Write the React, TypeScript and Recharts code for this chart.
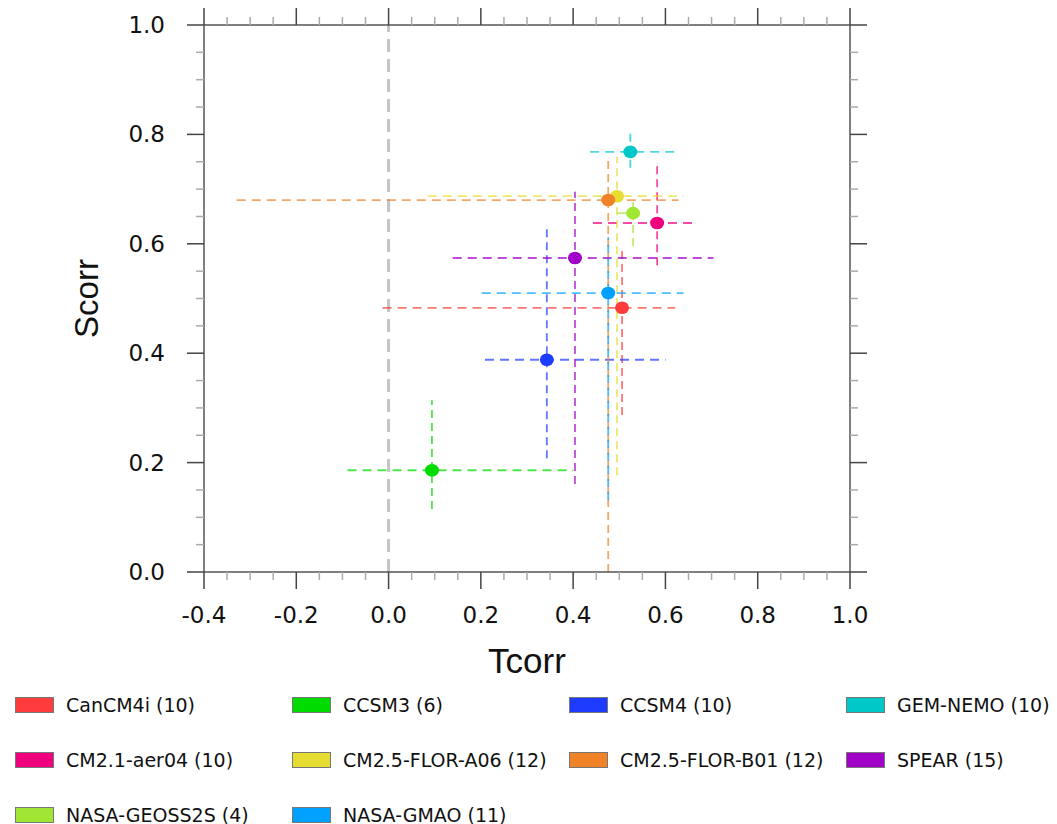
import React from 'react'
import { ScatterChart, Scatter, XAxis, YAxis, ErrorBar, ReferenceLine } from 'recharts'

// models in legend order
const models = [
  'CanCM4i (10)', 'CCSM3 (6)', 'CCSM4 (10)', 'GEM-NEMO (10)',
  'CM2.1-aer04 (10)', 'CM2.5-FLOR-A06 (12)', 'CM2.5-FLOR-B01 (12)', 'SPEAR (15)',
  'NASA-GEOSS2S (4)', 'NASA-GMAO (11)',
]
const colors = [
  '#ff3c3c', '#00dc00', '#1e3cff', '#00c8c8',
  '#f0007f', '#e6dc32', '#f08228', '#a000c8',
  '#a0e632', '#00a0ff',
]
const tcorr = [0.506, 0.094, 0.343, 0.524, 0.582, 0.495, 0.476, 0.404, 0.530, 0.476]
const scorr = [0.483, 0.186, 0.388, 0.768, 0.638, 0.687, 0.680, 0.574, 0.656, 0.510]
const tcorrLo = [-0.013, -0.089, 0.209, 0.437, 0.443, 0.085, -0.329, 0.139, 0.495, 0.202]
const tcorrHi = [0.621, 0.400, 0.600, 0.632, 0.665, 0.639, 0.628, 0.704, 0.540, 0.639]
const scorrLo = [0.287, 0.115, 0.208, 0.739, 0.561, 0.177, 0.0, 0.161, 0.596, 0.132]
const scorrHi = [0.589, 0.314, 0.634, 0.803, 0.748, 0.759, 0.757, 0.695, 0.676, 0.612]

const xMajor = [-0.4, -0.2, 0.0, 0.2, 0.4, 0.6, 0.8, 1.0]
const yMajor = [0.0, 0.2, 0.4, 0.6, 0.8, 1.0]

const steps = (lo: number, hi: number, step: number) => {
  const out: number[] = []
  for (let i = 0; lo + i * step <= hi + 1e-9; i++) out.push(Math.round((lo + i * step) * 100) / 100)
  return out
}
const xTicks = steps(-0.4, 1.0, 0.05)
const yTicks = steps(0, 1.0, 0.05)

const series = models.map((name, i) => ({
  name,
  color: colors[i],
  x: tcorr[i],
  y: scorr[i],
  xErr: [tcorr[i] - tcorrLo[i], tcorrHi[i] - tcorr[i]],
  yErr: [scorr[i] - scorrLo[i], scorrHi[i] - scorr[i]],
}))

const isMajor = (v: number, majors: number[]) => majors.some(m => Math.abs(m - v) < 1e-6)
const axisLine = { stroke: '#555', strokeWidth: 1.5 }
const labelFont = { fontFamily: 'DejaVu Sans', fontSize: 23, fill: '#111' }

const makeTick = (side: string, majors: number[], labels: boolean) => (props: any) => {
  const { x, y, payload } = props
  const v = payload.value
  const major = isMajor(v, majors)
  const len = major ? 17 : 8
  const stroke = major ? '#444' : '#aaa'
  let line = null
  let text = null
  if (side === 'bottom') {
    line = <line x1={x} x2={x} y1={y} y2={y + len} stroke={stroke} strokeWidth={1.5} />
    if (labels && major) text = <text x={x} y={y + 43} textAnchor="middle" dominantBaseline="central" {...labelFont}>{v.toFixed(1)}</text>
  } else if (side === 'top') {
    line = <line x1={x} x2={x} y1={y} y2={y - len} stroke={stroke} strokeWidth={1.5} />
  } else if (side === 'left') {
    line = <line x1={x} x2={x - len} y1={y} y2={y} stroke={stroke} strokeWidth={1.5} />
    if (labels && major) text = <text x={x - 39} y={y} textAnchor="end" dominantBaseline="central" {...labelFont}>{v.toFixed(1)}</text>
  } else {
    line = <line x1={x} x2={x + len} y1={y} y2={y} stroke={stroke} strokeWidth={1.5} />
  }
  return <g>{line}{text}</g>
}

const titleFont = { fontFamily: 'Liberation Sans', fontSize: 35, fill: '#111' }

const XTitle = (props: any) => {
  const vb = props.viewBox || { x: 204, y: 572, width: 646 }
  return <text x={vb.x + vb.width / 2} y={vb.y + 101} textAnchor="middle" {...titleFont}>Tcorr</text>
}
const YTitle = (props: any) => {
  const vb = props.viewBox || { x: 86, y: 25, height: 547 }
  const cx = vb.x
  const cy = vb.y + vb.height / 2
  return (
    <text x={cx} y={cy} textAnchor="middle" dominantBaseline="central" transform={`rotate(-90, ${cx}, ${cy})`}
      {...titleFont} fontSize={33}>Scorr</text>
  )
}

const hidden = () => <g />

export default function App() {
  return (
    <div style={{ position: 'absolute', left: 0, top: 0, width: 1057, height: 824, background: '#fff' }}>
      <ScatterChart width={1057} height={680} margin={{ top: 5, right: 187, bottom: 0, left: 86 }}>
        <XAxis xAxisId="b" type="number" dataKey="x" orientation="bottom" domain={[-0.4, 1.0]} allowDataOverflow
          ticks={xTicks} interval={0} tickSize={0} tickMargin={0} tickLine={false} axisLine={axisLine}
          tick={makeTick('bottom', xMajor, true)} height={108} label={{ content: XTitle }} />
        <XAxis xAxisId="t" type="number" dataKey="x" orientation="top" domain={[-0.4, 1.0]} allowDataOverflow
          ticks={xTicks} interval={0} tickSize={0} tickMargin={0} tickLine={false} axisLine={axisLine}
          tick={makeTick('top', xMajor, false)} height={20} />
        <YAxis yAxisId="l" type="number" dataKey="y" orientation="left" domain={[0, 1.0]} allowDataOverflow
          ticks={yTicks} interval={0} tickSize={0} tickMargin={0} tickLine={false} axisLine={axisLine}
          tick={makeTick('left', yMajor, true)} width={118} label={{ content: YTitle }} />
        <YAxis yAxisId="r" type="number" dataKey="y" orientation="right" domain={[0, 1.0]} allowDataOverflow
          ticks={yTicks} interval={0} tickSize={0} tickMargin={0} tickLine={false} axisLine={axisLine}
          tick={makeTick('right', yMajor, false)} width={20} />

        <ReferenceLine xAxisId="b" yAxisId="l" x={0} stroke="#c4c4c4" strokeWidth={3} strokeDasharray="13 7" />

        <Scatter data={series} xAxisId="t" yAxisId="r" shape={hidden} isAnimationActive={false} />

        {series.map(s => (
          <Scatter key={'err-' + s.name} data={[s]} xAxisId="b" yAxisId="l" shape={hidden} isAnimationActive={false}>
            <ErrorBar dataKey="xErr" direction="x" width={0} stroke={s.color} strokeOpacity={0.7}
              strokeWidth={1.8} strokeDasharray="9 6" isAnimationActive={false} />
            <ErrorBar dataKey="yErr" direction="y" width={0} stroke={s.color} strokeOpacity={0.7}
              strokeWidth={1.8} strokeDasharray="8 5" isAnimationActive={false} />
          </Scatter>
        ))}

        {series.map(s => (
          <Scatter key={'pt-' + s.name} name={s.name} data={[s]} xAxisId="b" yAxisId="l" isAnimationActive={false}
            shape={(p: any) => <ellipse cx={p.cx} cy={p.cy} rx={7} ry={6.3} fill={s.color} />} />
        ))}
      </ScatterChart>

      <div style={{
        position: 'absolute', left: 15, top: 677, display: 'grid',
        gridTemplateColumns: 'repeat(4, 277px)', gridAutoRows: '55px',
        fontFamily: 'DejaVu Sans', fontSize: 19, color: '#111',
      }}>
        {series.map(s => (
          <div key={s.name} style={{ display: 'flex', alignItems: 'center', whiteSpace: 'nowrap' }}>
            <span style={{
              display: 'inline-block', width: 39, height: 16, boxSizing: 'border-box',
              background: s.color, border: '1px solid #777', marginRight: 12,
            }} />
            <span>{s.name}</span>
          </div>
        ))}
      </div>
    </div>
  )
}
